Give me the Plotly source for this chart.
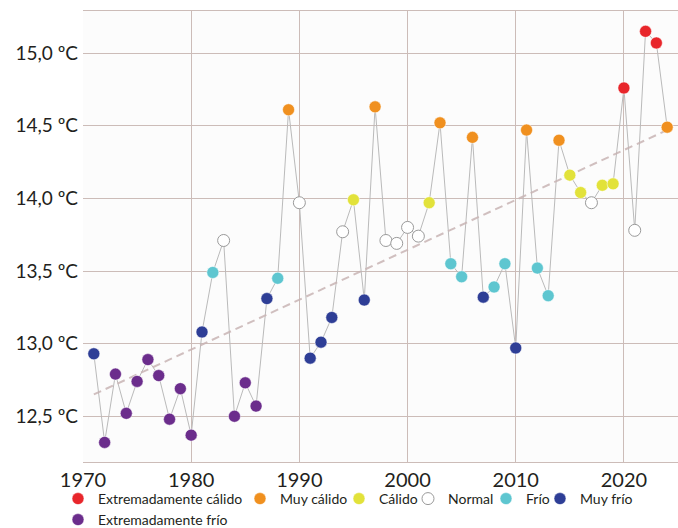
import plotly.graph_objects as go

years = list(range(1971, 2025))
temps = [12.93, 12.32, 12.79, 12.52, 12.74, 12.89, 12.78, 12.48, 12.69, 12.37,
         13.08, 13.49, 13.71, 12.50, 12.73, 12.57, 13.31, 13.45, 14.61, 13.97,
         12.90, 13.01, 13.18, 13.77, 13.99, 13.30, 14.63, 13.71, 13.69, 13.80,
         13.74, 13.97, 14.52, 13.55, 13.46, 14.42, 13.32, 13.39, 13.55, 12.97,
         14.47, 13.52, 13.33, 14.40, 14.16, 14.04, 13.97, 14.09, 14.10, 14.76,
         13.78, 15.15, 15.07, 14.49]
categories = ["MF", "EF", "EF", "EF", "EF", "EF", "EF", "EF", "EF", "EF",
              "MF", "F", "N", "EF", "EF", "EF", "MF", "F", "MC", "N",
              "MF", "MF", "MF", "N", "C", "MF", "MC", "N", "N", "N",
              "N", "C", "MC", "F", "F", "MC", "MF", "F", "F", "MF",
              "MC", "F", "F", "MC", "C", "C", "N", "C", "C", "EC",
              "N", "EC", "EC", "MC"]

cat_codes = ["EC", "MC", "C", "N", "F", "MF", "EF"]
cat_names = ["Extremadamente cálido", "Muy cálido", "Cálido", "Normal",
             "Frío", "Muy frío", "Extremadamente frío"]
cat_colors = ["#e8262b", "#f0901f", "#e2e23a", "#ffffff",
              "#5ec6d0", "#2e3e96", "#6b2d8c"]

trend_years = [1971, 2024]
trend_temps = [12.65, 14.47]

y_ticks = [12.5, 13.0, 13.5, 14.0, 14.5, 15.0]
y_ticktext = ["12,5 ºC", "13,0 ºC", "13,5 ºC", "14,0 ºC", "14,5 ºC", "15,0 ºC"]
x_ticks = [1970, 1980, 1990, 2000, 2010, 2020]

grid_col = "#ccbcb8"
text_col = "#231f20"

# layout geometry (pixels)
W, H = 678, 528
ML, MR, MT, MB = 83, 0, 11, 66
PW = W - ML - MR
PH = H - MT - MB
legend_dot_px = [(78, 499), (260, 499), (359, 499), (428, 499),
                 (506, 499), (560, 499), (78, 520)]

fig = go.Figure()

fig.add_trace(go.Scatter(
    x=years, y=temps, mode="lines",
    line=dict(color="#bababa", width=1),
    showlegend=False, hoverinfo="skip"))

fig.add_trace(go.Scatter(
    x=trend_years, y=trend_temps, mode="lines",
    line=dict(color="rgba(200,180,180,0.85)", width=2, dash="8px,5px"),
    showlegend=False, hoverinfo="skip"))

legend_layouts = {}
for i, (code, name, col) in enumerate(zip(cat_codes, cat_names, cat_colors)):
    xs = [yr for yr, c in zip(years, categories) if c == code]
    ys = [t for t, c in zip(temps, categories) if c == code]
    if code == "N":
        mline = dict(color="#9a9a9a", width=1)
    else:
        mline = dict(color="rgba(255,255,255,0.5)", width=1)
    lname = "legend" if i == 0 else "legend%d" % (i + 1)
    fig.add_trace(go.Scatter(
        x=xs, y=ys, mode="markers", name=name, legend=lname,
        marker=dict(color=col, size=12, line=mline)))
    dx, dy = legend_dot_px[i]
    legend_layouts[lname] = dict(
        orientation="h", x=(dx - 20 - ML) / PW, xanchor="left",
        y=(H - MB - dy) / PH, yanchor="middle",
        font=dict(size=14, color=text_col), itemwidth=30,
        bgcolor="rgba(0,0,0,0)", borderwidth=0)

fig.update_layout(
    width=W, height=H,
    margin=dict(l=ML, r=MR, t=MT, b=MB, autoexpand=False),
    paper_bgcolor="white",
    plot_bgcolor="#fcfcfc",
    font=dict(family="Lato, sans-serif", color=text_col),
    xaxis=dict(range=[1970, 2025], tickmode="array", tickvals=x_ticks,
               showgrid=True, gridcolor=grid_col, gridwidth=1, zeroline=False,
               showline=True, linecolor=grid_col, linewidth=1, mirror=True,
               ticks="", tickfont=dict(size=20, color=text_col)),
    yaxis=dict(range=[12.185, 15.29], tickmode="array", tickvals=y_ticks,
               ticktext=y_ticktext, showgrid=True, gridcolor=grid_col,
               gridwidth=1, zeroline=False, showline=False, ticks="",
               ticklabelstandoff=4, tickfont=dict(size=19, color=text_col)),
    **legend_layouts,
)

fig.write_html(
    "out.html",
    config={"displayModeBar": False},
    post_script="document.body.style.margin='0';document.body.style.padding='0';",
)
